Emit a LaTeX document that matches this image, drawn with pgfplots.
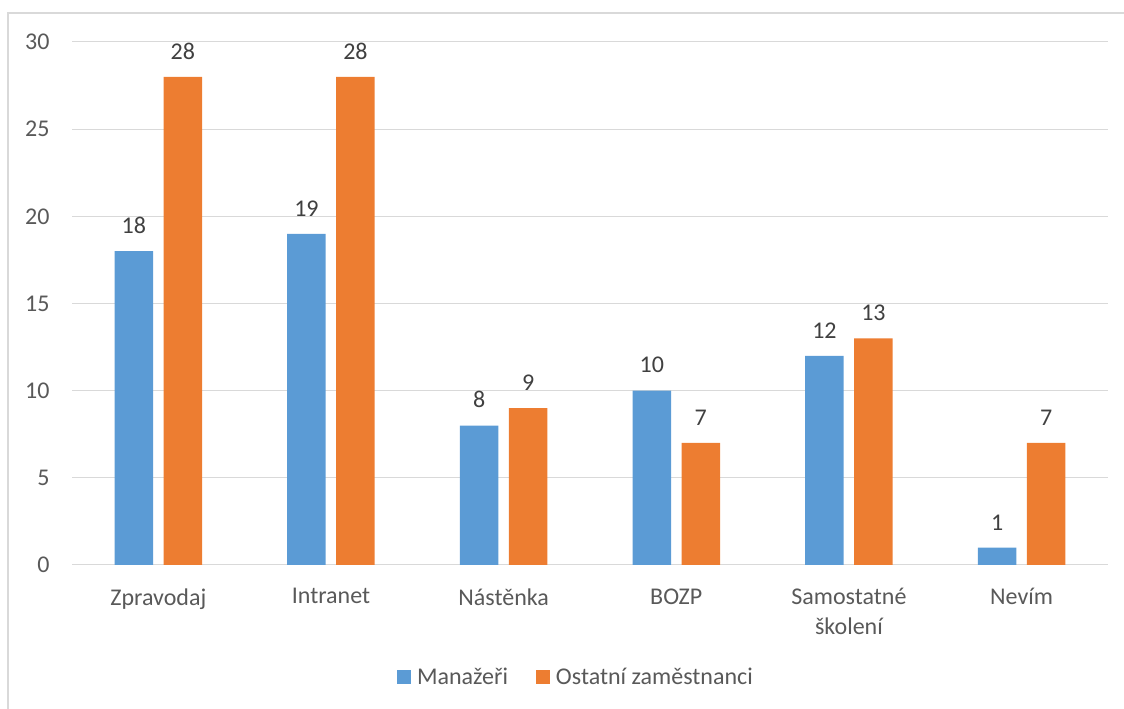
\documentclass[border=0pt]{standalone}
\usepackage{pgfplots}
\pgfplotsset{compat=1.18}
\usepackage{fontspec}
\setmainfont{Carlito}
\definecolor{cblue}{HTML}{5B9BD5}
\definecolor{corange}{HTML}{ED7D31}
\definecolor{ctext}{HTML}{595959}
\definecolor{cdark}{HTML}{404040}
\definecolor{cgrid}{HTML}{D9D9D9}
\newcommand{\ff}{\fontsize{24}{30}\selectfont}
\begin{document}
\begin{tikzpicture}[x=1pt,y=1pt]
\useasboundingbox (0,0) rectangle (1124,709);
\draw[cgrid,line width=1.5pt] (8,0) -- (8,696) -- (1124,696);
\begin{axis}[
  at={(72pt,144pt)}, anchor=south west,
  scale only axis, width=1036pt, height=523pt,
  ybar, bar width=38.5pt, ybar=10.5pt,
  xmin=-0.5, xmax=5.5, ymin=0, ymax=30,
  xtick={0,1,2,3,4,5},
  xticklabels={Zpravodaj,Intranet,Nástěnka,BOZP,{Samostatné\\školení},Nevím},
  ytick={0,5,10,15,20,25,30},
  axis line style={draw=none},
  major tick length=0pt,
  ymajorgrids, grid style={cgrid,line width=1pt},
  tick label style={font=\ff,text=ctext},
  /pgf/number format/assume math mode=true,
  xticklabel style={align=center,yshift=-20pt},
  yticklabel style={xshift=-19pt},
  nodes near coords,
  nodes near coords style={font=\ff,text=cdark,yshift=14pt},
  legend style={at={(0.4865,-0.214)},anchor=center,draw=none,font=\ff,text=ctext,
    /tikz/every odd column/.append style={column sep=4pt},
    /tikz/every even column/.append style={column sep=26pt}},
  legend columns=2,
  legend image code/.code={\fill[#1] (0pt,-7pt) rectangle (14pt,7pt);},
]
\draw[cgrid,line width=1.5pt] (axis cs:-0.5,0) -- (axis cs:5.5,0);
\addplot[fill=cblue,draw=none] coordinates {(0,18) (1,19) (2,8) (3,10) (4,12) (5,1)};
\addplot[fill=corange,draw=none] coordinates {(0,28) (1,28) (2,9) (3,7) (4,13) (5,7)};
\legend{Manažeři,Ostatní zaměstnanci}
\end{axis}
\end{tikzpicture}
\end{document}
